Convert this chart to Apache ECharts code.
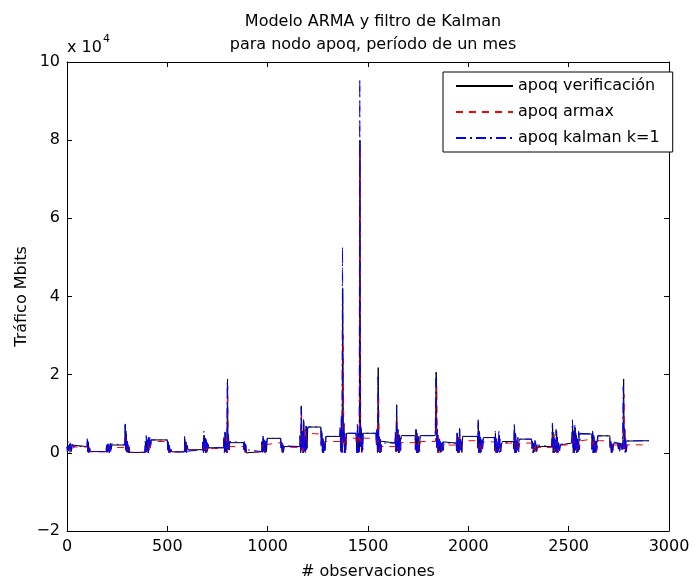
<!DOCTYPE html>
<html>
<head>
<meta charset="utf-8">
<title>Modelo ARMA y filtro de Kalman</title>
<script src="https://cdn.jsdelivr.net/npm/echarts@6/dist/echarts.min.js"></script>
<style>
  html, body { margin: 0; padding: 0; background: #fff; }
  #chart { width: 697px; height: 578px; }
</style>
</head>
<body>
<div id="chart"></div>
<script>
// Tráfico observado del nodo apoq: [observación, Mbits]
const verificacion = [
  [0,1500],[3,200],[6,1900],[9,700],[13,2300],[17,1200],[21,300],[25,2000],[30,1600],[100,1600],
  [102,3300],[104,600],[107,2700],[110,200],[113,1200],[116,330],[195,330],
  [197,1800],[200,200],[203,2300],[206,500],[209,1900],[212,0],[216,2400],[220,900],[224,2000],[288,2000],
  [290,7000],[293,800],[296,4800],[299,200],[302,2600],[305,0],[309,1500],[312,100],[388,100],
  [391,2800],[394,200],[397,3800],[400,600],[403,3200],[406,100],[410,3600],[414,1200],[418,3300],[500,3300],
  [502,700],[505,2600],[508,0],[511,1500],[514,200],[518,900],[522,250],[585,250],
  [587,3500],[590,300],[593,2800],[596,0],[599,1900],[603,800],[675,800],
  [677,2500],[680,100],[683,4500],[686,600],[689,3800],[692,0],[695,2900],[699,400],[703,2200],[707,1300],[780,1300],
  [782,3500],[785,200],[788,5200],[791,500],[794,2800],[797,0],[800,18900],[802,1800],[805,4200],[808,700],[811,2600],[880,2600],
  [882,800],[885,2500],[888,100],[891,2000],[894,0],[898,300],[970,300],
  [972,2800],[975,100],[978,3800],[981,500],[984,3300],[987,0],[990,2600],[994,300],[998,3700],[1065,3700],
  [1067,1200],[1070,2600],[1073,100],[1076,2000],[1079,300],[1083,1600],[1160,1600],
  [1162,4000],[1165,200],[1168,12000],[1171,1000],[1174,5500],[1177,0],[1180,8000],[1183,600],[1186,3500],[1189,100],[1192,6800],[1196,1200],[1200,6600],[1265,6600],
  [1267,2000],[1270,5200],[1273,100],[1276,3500],[1279,0],[1282,2500],[1286,600],[1290,4200],[1360,4200],
  [1362,6000],[1365,500],[1368,9000],[1371,200],[1374,42000],[1377,3000],[1380,7500],[1383,0],[1386,4000],[1389,800],[1393,5000],[1440,5000],
  [1442,3000],[1445,300],[1448,7000],[1451,0],[1454,4500],[1457,500],[1460,80000],[1463,2000],[1466,6000],[1469,100],[1472,5000],[1540,5000],
  [1542,2000],[1545,5500],[1548,100],[1551,21800],[1554,600],[1557,4000],[1560,0],[1563,3000],[1567,2500],[1635,2500],
  [1637,5000],[1640,200],[1643,12300],[1646,900],[1649,6000],[1652,0],[1655,4500],[1658,300],[1662,3500],[1666,4400],[1735,4400],
  [1737,1000],[1740,5900],[1743,200],[1746,4500],[1749,0],[1752,3800],[1756,500],[1760,4400],[1835,4400],
  [1837,8000],[1840,20600],[1843,1500],[1846,6000],[1849,0],[1852,4000],[1855,500],[1858,3000],[1862,100],[1866,2500],[1870,600],[1875,2800],[1880,2500],[1940,2500],
  [1942,500],[1945,5000],[1948,0],[1951,3500],[1954,300],[1957,6000],[1960,800],[1964,3000],[1968,100],[1972,4200],[2045,4200],
  [2047,1500],[2050,8000],[2053,300],[2056,5000],[2059,0],[2062,3500],[2066,600],[2070,2800],[2075,3900],[2130,3900],
  [2132,800],[2135,5000],[2138,100],[2141,3600],[2144,0],[2147,2500],[2151,400],[2155,4500],[2159,300],[2164,2000],[2170,2900],[2225,2900],
  [2227,1000],[2230,7000],[2233,200],[2236,4500],[2239,0],[2242,3000],[2246,600],[2250,2400],[2255,3500],[2315,3500],
  [2318,1200],[2321,2600],[2324,0],[2327,2000],[2331,400],[2335,2800],[2340,300],[2346,1600],[2415,1600],
  [2417,3000],[2420,7000],[2423,200],[2426,4800],[2429,0],[2432,3200],[2436,600],[2440,5500],[2444,100],[2448,2600],[2453,800],[2458,2000],[2465,2500],[2515,2500],
  [2517,4000],[2520,7000],[2523,300],[2526,5500],[2529,0],[2532,6500],[2535,800],[2538,4500],[2541,100],[2545,3500],[2549,500],[2553,5000],[2558,4800],[2615,4800],
  [2617,1000],[2620,5200],[2623,0],[2626,4000],[2629,300],[2632,3000],[2636,100],[2640,2500],[2645,4350],[2705,4350],
  [2707,1500],[2710,3000],[2713,0],[2716,2200],[2720,500],[2725,2500],[2745,2500],[2748,1000],[2751,2600],[2755,800],[2760,2500],[2765,2500],
  [2768,1000],[2771,4000],[2774,18900],[2777,1500],[2780,6000],[2783,200],[2786,3000],[2790,3100],[2900,3100]
];

// Predicción del modelo ARMAX
const armax = [
  [0,1500],[5,1200],[10,600],[15,1800],[20,900],[28,1400],[35,1500],[102,1500],[105,1800],[108,400],[112,1500],[116,250],[196,250],
  [199,1500],[203,600],[207,1700],[211,0],[215,1200],[220,800],[225,1350],[289,1350],
  [293,5000],[296,600],[300,3000],[304,0],[308,1000],[313,150],[389,150],
  [393,1800],[397,400],[401,2800],[405,300],[409,2400],[414,900],[420,2900],[501,2900],
  [505,500],[509,1800],[513,0],[517,800],[524,250],[586,250],
  [590,2500],[594,200],[598,1600],[602,700],[676,700],
  [680,1200],[684,3000],[688,200],[692,2500],[696,0],[700,1800],[705,1100],[781,1100],
  [785,2600],[789,300],[793,3800],[797,100],[801,17000],[804,1200],[807,3000],[811,1600],[881,1600],
  [885,600],[889,1800],[893,0],[899,300],[971,300],
  [975,2000],[979,200],[983,3000],[987,0],[991,2100],[996,2600],[1066,2600],
  [1070,1800],[1074,0],[1078,1500],[1084,1350],[1161,1350],
  [1165,3000],[1169,9800],[1172,500],[1176,4500],[1180,0],[1184,6000],[1188,300],[1193,5000],[1200,4800],[1266,4800],
  [1270,1500],[1274,3800],[1278,0],[1282,2000],[1290,2900],[1361,2900],
  [1365,4500],[1369,200],[1373,6000],[1376,30000],[1380,1500],[1384,5000],[1388,0],[1394,3750],[1441,3750],
  [1445,2000],[1449,5000],[1453,0],[1457,3000],[1461,78000],[1464,1000],[1468,4000],[1472,0],[1476,3750],[1541,3750],
  [1545,1500],[1549,4000],[1553,15000],[1556,300],[1560,3000],[1564,0],[1568,1600],[1636,1600],
  [1640,3500],[1644,9000],[1648,500],[1652,4000],[1656,0],[1661,2600],[1736,2600],
  [1740,500],[1744,4500],[1748,0],[1752,3000],[1757,300],[1762,2900],[1836,2900],
  [1840,6000],[1843,17000],[1846,1000],[1850,4000],[1854,0],[1858,2500],[1864,100],[1870,2000],[1878,2000],[1941,2000],
  [1945,300],[1949,3500],[1953,0],[1957,4500],[1961,400],[1966,2500],[1972,3100],[2046,3100],
  [2050,1000],[2054,6000],[2058,0],[2062,3500],[2067,300],[2075,2800],[2131,2800],
  [2135,400],[2139,3800],[2143,0],[2147,2000],[2152,3000],[2157,100],[2165,2500],[2226,2500],
  [2230,600],[2234,5000],[2238,0],[2242,3000],[2247,200],[2256,2500],[2316,2500],
  [2320,800],[2324,1800],[2328,0],[2333,2000],[2340,200],[2347,1350],[2416,1350],
  [2420,2000],[2424,5000],[2428,0],[2432,3500],[2437,200],[2442,4000],[2447,0],[2453,1500],[2465,2000],[2516,2000],
  [2520,3000],[2524,5000],[2528,0],[2532,4500],[2536,300],[2540,3500],[2544,0],[2549,3000],[2558,3500],[2616,3500],
  [2620,600],[2624,3800],[2628,0],[2632,2200],[2638,100],[2646,3100],[2706,3100],
  [2710,1000],[2714,2000],[2718,0],[2723,2000],[2746,2000],[2750,600],[2755,2000],[2766,2000],
  [2770,600],[2773,3000],[2776,15000],[2779,800],[2783,4000],[2787,0],[2792,2050],[2900,2050]
];

// Estimación del filtro de Kalman, un paso adelante
const kalman = [
  [0,1600],[2,300],[5,2900],[8,600],[11,2400],[14,100],[18,2900],[22,800],[26,2200],[30,1600],[100,1600],
  [101,3600],[103,200],[106,3000],[109,0],[112,1500],[115,330],[195,330],
  [197,2200],[199,100],[202,2600],[205,300],[208,2300],[211,0],[214,2500],[218,400],[221,2300],[224,2000],[288,2000],
  [290,7400],[292,600],[295,5500],[298,0],[301,3000],[304,200],[307,2000],[311,100],[388,100],
  [390,3000],[392,100],[395,4400],[398,300],[401,3800],[404,0],[407,4000],[410,600],[413,3900],[417,1500],[419,3300],[500,3300],
  [502,500],[504,2800],[507,0],[510,2000],[513,100],[516,1200],[521,250],[585,250],
  [586,4200],[589,200],[592,3200],[595,0],[598,2200],[601,400],[604,800],[675,800],
  [676,2800],[679,0],[682,5600],[685,300],[688,4200],[691,0],[694,3400],[697,200],[700,2600],[704,500],[707,1300],[780,1300],
  [781,4000],[784,0],[787,5800],[790,300],[793,3400],[796,0],[799,18500],[801,1000],[804,4800],[807,300],[810,2900],[812,2600],[880,2600],
  [882,400],[884,2900],[887,0],[890,2300],[893,100],[897,800],[900,300],[970,300],
  [971,3200],[974,0],[977,4300],[980,300],[983,3800],[986,0],[989,3000],[992,200],[995,2800],[998,3700],[1065,3700],
  [1066,1000],[1069,2800],[1072,0],[1075,2400],[1078,100],[1081,1800],[1084,1600],[1160,1600],
  [1161,4500],[1164,0],[1167,11800],[1170,600],[1173,6000],[1176,0],[1179,8500],[1182,300],[1185,4200],[1188,0],[1191,7000],[1194,800],[1197,5500],[1201,6600],[1265,6600],
  [1266,1500],[1269,5600],[1272,0],[1275,4000],[1278,0],[1281,3000],[1284,300],[1287,2000],[1291,4200],[1360,4200],
  [1361,6500],[1364,200],[1367,9500],[1370,0],[1373,52700],[1376,2500],[1379,8000],[1382,0],[1385,5000],[1388,300],[1391,3500],[1394,5000],[1440,5000],
  [1441,3500],[1444,0],[1447,7500],[1450,0],[1453,5000],[1456,200],[1459,95700],[1462,1500],[1465,6500],[1468,0],[1471,5500],[1474,300],[1477,5000],[1540,5000],
  [1541,2500],[1544,6000],[1547,0],[1550,19500],[1553,300],[1556,4500],[1559,0],[1562,3500],[1565,200],[1568,2500],[1635,2500],
  [1636,5500],[1639,0],[1642,11800],[1645,500],[1648,6500],[1651,0],[1654,5000],[1657,100],[1660,3800],[1663,600],[1667,4400],[1735,4400],
  [1736,800],[1739,6000],[1742,0],[1745,5000],[1748,0],[1751,4200],[1754,200],[1757,3000],[1761,4400],[1835,4400],
  [1836,8500],[1839,20500],[1842,1000],[1845,6500],[1848,0],[1851,4500],[1854,200],[1857,3500],[1860,0],[1863,3000],[1867,300],[1871,3200],[1875,600],[1879,2500],[1940,2500],
  [1941,300],[1944,5500],[1947,0],[1950,4000],[1953,0],[1956,6300],[1959,400],[1962,3500],[1965,0],[1968,2500],[1972,4200],[2045,4200],
  [2046,1200],[2049,8450],[2052,0],[2055,5500],[2058,0],[2061,4000],[2064,200],[2067,3200],[2071,500],[2075,3900],[2130,3900],
  [2131,500],[2134,5500],[2137,0],[2140,4000],[2143,0],[2146,3000],[2149,200],[2152,5900],[2155,0],[2158,3500],[2162,300],[2166,2400],[2171,2900],[2225,2900],
  [2226,800],[2229,7600],[2232,0],[2235,5000],[2238,0],[2241,3500],[2244,300],[2247,4000],[2251,200],[2255,3500],[2315,3500],
  [2316,1000],[2319,3000],[2322,0],[2325,2500],[2328,200],[2332,3200],[2336,0],[2341,2000],[2346,1600],[2415,1600],
  [2416,3500],[2419,7600],[2422,0],[2425,5200],[2428,0],[2431,3800],[2434,300],[2437,6000],[2440,0],[2443,4000],[2447,200],[2451,3000],[2455,500],[2460,2200],[2466,2500],[2515,2500],
  [2516,4500],[2519,8450],[2522,0],[2525,6000],[2528,0],[2531,7200],[2534,300],[2537,5000],[2540,0],[2543,4000],[2546,200],[2550,5500],[2554,800],[2558,4800],[2615,4800],
  [2616,800],[2619,5600],[2622,0],[2625,4500],[2628,0],[2631,3500],[2634,200],[2638,3000],[2642,500],[2646,4350],[2705,4350],
  [2706,1200],[2709,3200],[2712,0],[2715,2500],[2718,200],[2722,2800],[2726,2500],[2745,2500],[2748,800],[2751,2800],[2754,400],[2758,2500],[2765,2500],
  [2766,800],[2769,4500],[2772,17000],[2775,1000],[2778,6500],[2781,0],[2784,3500],[2787,200],[2791,3100],[2900,3100]
];

const seriesNames = ['apoq verificación', 'apoq armax', 'apoq kalman k=1'];
const titleLines = ['Modelo ARMA y filtro de Kalman', 'para nodo apoq, período de un mes'];
const xRange = [0, 3000, 500];
const yRange = [-20000, 100000, 20000];
const yScale = 10000;

const FONT = 'DejaVu Sans';
const chart = echarts.init(document.getElementById('chart'), null, { renderer: 'canvas' });

const axisCommon = {
  axisLine: { show: true, onZero: false, lineStyle: { color: '#000', width: 1 } },
  axisTick: { show: true, inside: true, length: 5, lineStyle: { color: '#000', width: 1 } },
  splitLine: { show: false }
};

chart.setOption({
  animation: false,
  backgroundColor: '#fff',
  title: {
    text: titleLines.join('\n'),
    left: 368,
    top: 5,
    textAlign: 'center',
    textStyle: { fontFamily: FONT, fontSize: 16, fontWeight: 'normal', color: '#000', lineHeight: 23 }
  },
  grid: { left: 67, right: 28, top: 62, bottom: 47, containLabel: false, outerBoundsMode: 'none' },
  legend: {
    orient: 'vertical',
    left: 443,
    top: 72,
    data: seriesNames,
    itemWidth: 57,
    itemHeight: 14,
    itemGap: 10,
    padding: [6, 13, 6, 12],
    borderColor: '#000',
    borderWidth: 1,
    backgroundColor: '#fff',
    itemStyle: { opacity: 0 },
    textStyle: { fontFamily: FONT, fontSize: 16, color: '#000', lineHeight: 14 }
  },
  xAxis: [
    Object.assign({
      type: 'value', min: xRange[0], max: xRange[1], interval: xRange[2],
      position: 'bottom',
      name: '# observaciones', nameLocation: 'middle', nameGap: 33, nameMoveOverlap: false,
      nameTextStyle: { fontFamily: FONT, fontSize: 16, color: '#000' },
      axisLabel: { fontFamily: FONT, fontSize: 16, color: '#000', margin: 8, formatter: v => String(v) }
    }, axisCommon),
    Object.assign({
      type: 'value', min: xRange[0], max: xRange[1], interval: xRange[2],
      position: 'top', axisLabel: { show: false }
    }, axisCommon)
  ],
  yAxis: [
    Object.assign({
      type: 'value', min: yRange[0], max: yRange[1], interval: yRange[2],
      position: 'left',
      name: 'Tráfico Mbits', nameLocation: 'middle', nameGap: 37, nameMoveOverlap: false,
      nameTextStyle: { fontFamily: FONT, fontSize: 16, color: '#000' },
      axisLabel: {
        fontFamily: FONT, fontSize: 16, color: '#000', margin: 7,
        formatter: v => { const t = v / yScale; return t < 0 ? '\u2212' + Math.abs(t) : String(t); }
      }
    }, axisCommon),
    Object.assign({
      type: 'value', min: yRange[0], max: yRange[1], interval: yRange[2],
      position: 'right', axisLabel: { show: false }
    }, axisCommon)
  ],
  graphic: [{
    type: 'text',
    left: 67,
    top: 34,
    style: {
      text: '{b|x 10}{s|4}',
      rich: {
        b: { fontFamily: FONT, fontSize: 16, fill: '#000', padding: [8, 0, 0, 0] },
        s: { fontFamily: FONT, fontSize: 11, fill: '#000', padding: [0, 0, 8, 1] }
      }
    }
  }],
  series: [
    {
      name: seriesNames[0], type: 'line', data: verificacion, xAxisIndex: 0, yAxisIndex: 0,
      symbol: 'none', lineStyle: { color: '#000', width: 1, type: 'solid' },
      itemStyle: { color: '#000' }, z: 2
    },
    {
      name: seriesNames[1], type: 'line', data: armax, xAxisIndex: 0, yAxisIndex: 0,
      symbol: 'none', lineStyle: { color: '#ff0000', width: 1, type: [7, 6] },
      itemStyle: { color: '#ff0000' }, z: 3
    },
    {
      name: seriesNames[2], type: 'line', data: kalman, xAxisIndex: 0, yAxisIndex: 0,
      symbol: 'none', lineStyle: { color: '#0000ff', width: 1, type: [10, 4, 2, 4] },
      itemStyle: { color: '#0000ff' }, z: 4
    }
  ]
});
</script>
</body>
</html>
